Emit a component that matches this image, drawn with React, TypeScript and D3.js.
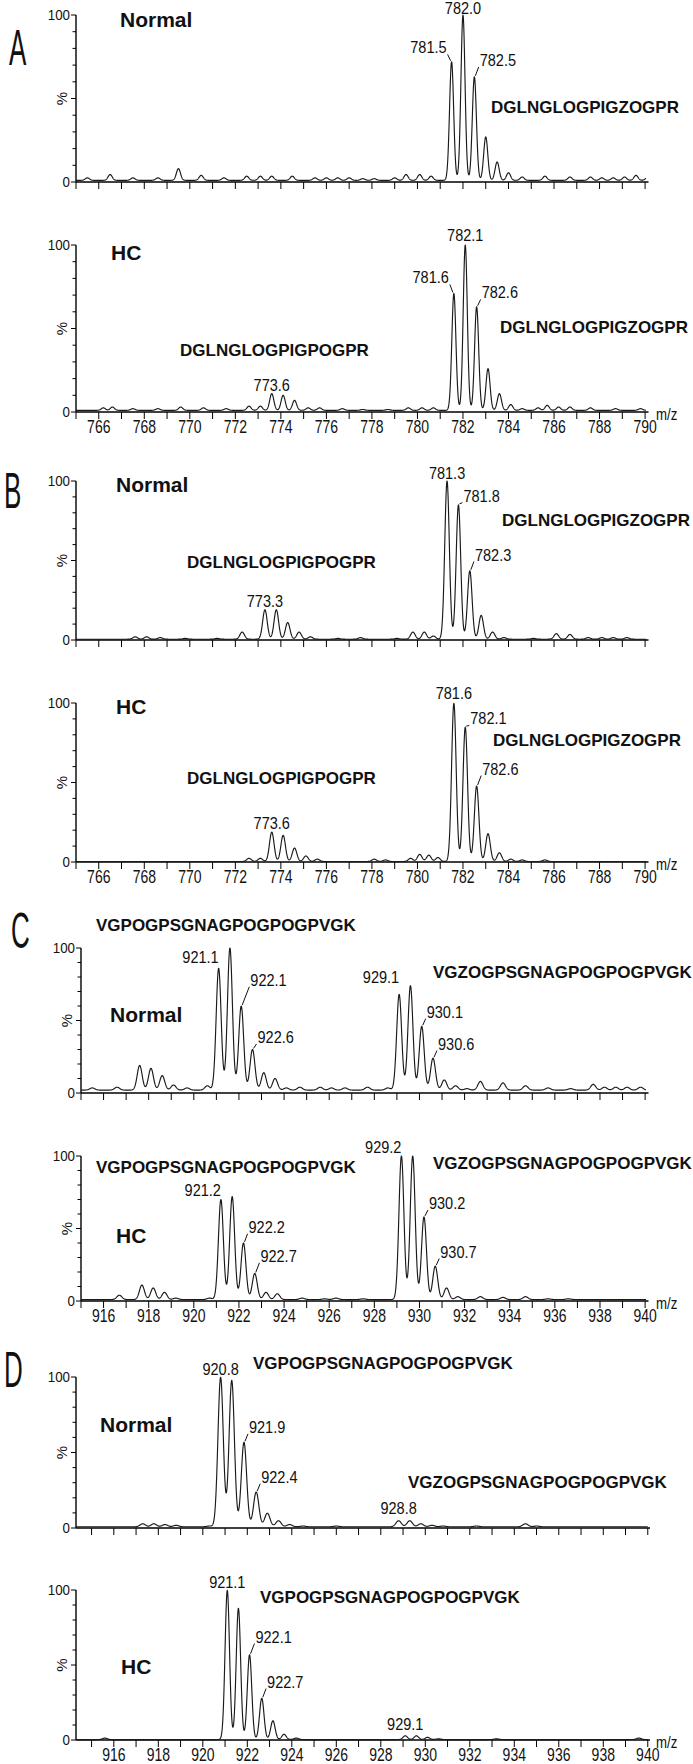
import React from 'react';
import * as d3 from 'd3';

// peptide sequences annotated on the spectra
const SEQ_POG = 'DGLNGLOGPIGPOGPR';
const SEQ_ZOG = 'DGLNGLOGPIGZOGPR';
const SEQ_VPOG = 'VGPOGPSGNAGPOGPOGPVGK';
const SEQ_VZOG = 'VGZOGPSGNAGPOGPOGPVGK';

// x tick labels
const lowMzLabels = [766, 768, 770, 772, 774, 776, 778, 780, 782, 784, 786, 788, 790];
const highMzLabels = [916, 918, 920, 922, 924, 926, 928, 930, 932, 934, 936, 938, 940];

// peaks: [m/z, % relative intensity]
const aNormalPeaks: [number, number][] = [
  [765.5, 1.5], [766.5, 3.5], [767.5, 1.5], [768.6, 1.5], [769.5, 7], [770.5, 3], [771.5, 1.5],
  [772.5, 2.5], [773.1, 2.5], [773.6, 2.5], [774.5, 2.5], [775.5, 1.5], [776, 1.5], [776.5, 1.5],
  [777, 1.5], [777.6, 1], [778.1, 1], [779, 1.5], [779.5, 3.5], [780.1, 3.5], [780.6, 2.5],
  [781.5, 71], [782, 99], [782.5, 62], [783, 26], [783.5, 11], [784, 4.5], [784.6, 2],
  [785.6, 2.5], [786.7, 2], [787.6, 2], [788.1, 1.5], [788.6, 1.5], [789.1, 2], [789.6, 3], [790.1, 1.5],
];
const aHcPeaks: [number, number][] = [
  [766.2, 1.5], [766.6, 2], [767.5, 1], [768.6, 1], [769.6, 2], [770.6, 1.5], [771.6, 1],
  [772.6, 2.5], [773.1, 2.5], [773.6, 10], [774.1, 9], [774.6, 6], [775.2, 1.5], [775.7, 1.5],
  [776.7, 1], [777.6, 0.5], [778.7, 0.5], [779.6, 1.5], [780.2, 1.5], [780.7, 1.5],
  [781.6, 70], [782.1, 99], [782.6, 62], [783.1, 25], [783.6, 10], [784.1, 3.5], [784.6, 1],
  [785.3, 1.5], [785.7, 3], [786.2, 2], [786.7, 2], [787.6, 1.5], [788.7, 1], [789.8, 1],
];
const bNormalPeaks: [number, number][] = [
  [767.6, 1.5], [768.1, 1.5], [768.7, 1], [769.8, 0.5], [771.2, 0.5], [772.3, 4.5], [773.3, 18.5],
  [773.8, 18.5], [774.3, 10.5], [774.8, 4.5], [775.3, 1.5], [776.5, 0.5], [777.5, 1], [779.1, 0.5],
  [779.8, 4.5], [780.3, 4.5], [780.7, 2], [781.3, 99.5], [781.8, 84.5], [782.3, 43], [782.8, 15],
  [783.3, 4.5], [783.8, 1], [785.1, 0.5], [786.1, 3.5], [786.7, 3], [787.5, 1], [788.1, 1],
  [788.6, 1], [789.2, 1],
];
const bHcPeaks: [number, number][] = [
  [772.6, 2], [773.1, 2], [773.6, 18.5], [774.1, 16.5], [774.6, 8.5], [775.1, 3.5], [775.6, 1.5],
  [778.1, 1.5], [778.6, 1], [779.7, 2], [780.1, 4.5], [780.5, 4], [780.9, 2.5], [781.6, 99.5],
  [782.1, 84.5], [782.6, 47.5], [783.1, 17.5], [783.6, 5.5], [784.1, 1.5], [784.6, 1], [785.6, 1],
];
const cNormalPeaks: [number, number][] = [
  [915.5, 1.5], [916.6, 2], [917.6, 17], [918.1, 15], [918.6, 10], [919.1, 3.5], [919.7, 1.5],
  [920.6, 3], [921.1, 84], [921.6, 98], [922.1, 58], [922.6, 28], [923.1, 12], [923.6, 8],
  [924.1, 1.5], [924.7, 2], [925.6, 2], [926.1, 1.5], [926.7, 1.5], [927.7, 2], [928.6, 1.5],
  [929.1, 66], [929.6, 72], [930.1, 44], [930.6, 22], [931.1, 7], [931.6, 3], [932.1, 1],
  [932.7, 6], [933.7, 5], [934.7, 3], [935.7, 1.5], [936.7, 1], [937.7, 4], [938.2, 2],
  [938.7, 2], [939.2, 2], [939.8, 2],
];
const cHcPeaks: [number, number][] = [
  [916.7, 3], [917.7, 10], [918.2, 8], [918.7, 5], [919.2, 1], [920.7, 1], [921.2, 69],
  [921.7, 71], [922.2, 39], [922.7, 18], [923.2, 5], [923.7, 4], [924.8, 1], [925.8, 0.5],
  [926.3, 1], [927.5, 0.5], [929.2, 99], [929.7, 99], [930.2, 57], [930.7, 23], [931.2, 8],
  [931.7, 2], [932.7, 2], [933.7, 1.5], [934.7, 2], [935.7, 0.5], [936.6, 0.5],
];
const dNormalPeaks: [number, number][] = [
  [917.3, 2], [917.8, 2], [918.3, 1.5], [918.8, 1], [920.3, 0.5], [920.8, 99], [921.3, 97],
  [921.85, 56], [922.4, 23], [922.9, 9], [923.4, 4], [923.9, 1.5], [924.5, 0.5], [926, 0.5],
  [928.8, 4], [929.3, 4], [929.8, 2], [930.3, 1], [930.8, 0.5], [932.3, 0.5], [934.5, 2], [935, 0.5],
];
const dHcPeaks: [number, number][] = [
  [915.6, 1], [921.1, 99.5], [921.6, 87.5], [922.1, 56.5], [922.65, 27.5], [923.15, 12.5],
  [923.65, 3.5], [924.2, 1], [929.1, 2.5], [929.6, 2.5], [930.1, 1.5], [930.6, 0.5],
  [933.2, 0.5], [939.6, 1],
];

// peak annotations: [text, placement, % level of the text baseline]
type Lbl = [string, 'top' | 'left' | 'leftLine' | 'right', number];
const aNormalLabels: Lbl[] = [['782.0', 'top', 100.6], ['781.5', 'leftLine', 77], ['782.5', 'right', 69.5]];
const aHcLabels: Lbl[] = [['782.1', 'top', 102.5], ['781.6', 'leftLine', 77], ['782.6', 'right', 68], ['773.6', 'top', 12.5]];
const bNormalLabels: Lbl[] = [['781.3', 'top', 101.5], ['781.8', 'right', 87], ['782.3', 'right', 50], ['773.3', 'top', 21]];
const bHcLabels: Lbl[] = [['781.6', 'top', 102.5], ['782.1', 'right', 86.5], ['782.6', 'right', 55], ['773.6', 'top', 21]];
const cNormalLabels: Lbl[] = [
  ['921.1', 'left', 90], ['922.1', 'right', 74], ['922.6', 'right', 34.5],
  ['929.1', 'left', 76], ['930.1', 'right', 52], ['930.6', 'right', 30],
];
const cHcLabels: Lbl[] = [
  ['921.2', 'left', 72.5], ['922.2', 'right', 47], ['922.7', 'right', 27],
  ['929.2', 'left', 102], ['930.2', 'right', 63.5], ['930.7', 'right', 30],
];
const dNormalLabels: Lbl[] = [['920.8', 'top', 101.3], ['921.9', 'right', 63], ['922.4', 'right', 30], ['928.8', 'top', 9]];
const dHcLabels: Lbl[] = [['921.1', 'top', 101.3], ['922.1', 'right', 65], ['922.7', 'right', 35], ['929.1', 'top', 7]];

const FONT = "'Liberation Sans', Arial, sans-serif";
const INK = '#111';

// page layout, one entry per trace
const panels = [
  { peaks: aNormalPeaks, labels: aNormalLabels, sigma: 0.09, floor: 1, dom: [765, 790.15], rng: [76, 648.5],
    top: 15, base: 182, ticks: null, letter: ['A', 9, 65], group: ['Normal', 120, 27], seqs: [[SEQ_ZOG, 491, 113]] },
  { peaks: aHcPeaks, labels: aHcLabels, sigma: 0.09, floor: 1, dom: [765, 790.15], rng: [76, 648.5],
    top: 245, base: 412, ticks: lowMzLabels, letter: null, group: ['HC', 111, 260], seqs: [[SEQ_POG, 180, 356], [SEQ_ZOG, 500, 333]] },
  { peaks: bNormalPeaks, labels: bNormalLabels, sigma: 0.1, floor: 0.5, dom: [765, 790.15], rng: [76, 648.5],
    top: 481, base: 640, ticks: null, letter: ['B', 4, 508], group: ['Normal', 116, 492], seqs: [[SEQ_ZOG, 502, 526], [SEQ_POG, 187, 568]] },
  { peaks: bHcPeaks, labels: bHcLabels, sigma: 0.1, floor: 0.3, dom: [765, 790.15], rng: [76, 648.5],
    top: 703, base: 862, ticks: lowMzLabels, letter: null, group: ['HC', 116, 714], seqs: [[SEQ_ZOG, 493, 746], [SEQ_POG, 187, 784]] },
  { peaks: cNormalPeaks, labels: cNormalLabels, sigma: 0.11, floor: 2, dom: [915, 940.15], rng: [81, 648.5],
    top: 948, base: 1093, ticks: null, letter: ['C', 11, 948], group: ['Normal', 110, 1022], seqs: [[SEQ_VPOG, 96, 931], [SEQ_VZOG, 433, 978]] },
  { peaks: cHcPeaks, labels: cHcLabels, sigma: 0.11, floor: 1, dom: [915, 940.15], rng: [81, 648.5],
    top: 1156, base: 1301, ticks: highMzLabels, letter: null, group: ['HC', 116, 1243], seqs: [[SEQ_VPOG, 96, 1173], [SEQ_VZOG, 433, 1169]] },
  { peaks: dNormalPeaks, labels: dNormalLabels, sigma: 0.12, floor: 0.8, dom: [914.3, 940.1], rng: [76, 650],
    top: 1377, base: 1528, ticks: null, letter: ['D', 4, 1387], group: ['Normal', 100, 1432], seqs: [[SEQ_VPOG, 253, 1369], [SEQ_VZOG, 408, 1488]] },
  { peaks: dHcPeaks, labels: dHcLabels, sigma: 0.1, floor: 0.3, dom: [914.3, 940.1], rng: [76, 650],
    top: 1590, base: 1740, ticks: highMzLabels, letter: null, group: ['HC', 121, 1674], seqs: [[SEQ_VPOG, 260, 1603]] },
];

// text drawn with a horizontal squeeze (the figure uses a narrow face)
const T = ({ x, y, sx = 1, size, anchor = 'start', weight = 'normal', children }: any) => (
  <text transform={`translate(${x},${y}) scale(${sx},1)`} textAnchor={anchor} fontSize={size}
    fontWeight={weight} fontFamily={FONT} fill={INK}>{children}</text>
);

const Spectrum = ({ p }: any) => {
  const x = d3.scaleLinear().domain(p.dom).range(p.rng);
  const y = d3.scaleLinear().domain([0, 100]).range([p.base, p.top]);
  const s2 = 2 * p.sigma * p.sigma;
  const level = (mz: number) =>
    p.floor + d3.sum(p.peaks, ([m, h]: [number, number]) => h * Math.exp(-((mz - m) ** 2) / s2));
  const pts = d3.range(p.dom[0], p.dom[1] - 0.1, 0.01).map((mz) => [mz, level(mz)]);
  const line = d3.line<number[]>().x((d) => x(d[0])).y((d) => y(d[1]));
  const minorTicks = d3.range(Math.ceil(p.dom[0]), Math.floor(p.dom[1]) + 1);
  const x0 = p.rng[0];

  return (
    <g>
      {/* y axis */}
      <line x1={x0} x2={x0} y1={p.base} y2={p.top} stroke="#000" strokeWidth={1.4} />
      {d3.range(0, 101, 10).map((v) => (
        <line key={v} x1={x0 - (v % 50 === 0 ? 5 : 3.5)} x2={x0} y1={y(v)} y2={y(v)} stroke="#000" strokeWidth={1} />
      ))}
      <T x={x0 - 6} y={y(100) + 5} size={14.5} sx={0.92} anchor="end">100</T>
      <T x={x0 - 6} y={y(0) + 5} size={14.5} sx={0.92} anchor="end">0</T>
      <text transform={`translate(${x0 - 9},${y(50)}) rotate(-90)`} textAnchor="middle" fontSize={15}
        fontFamily={FONT} fill={INK}>%</text>

      {/* x axis */}
      <line x1={x0} x2={p.rng[1]} y1={p.base} y2={p.base} stroke="#000" strokeWidth={1.6} />
      {minorTicks.map((t: number) => (
        <line key={t} x1={x(t)} x2={x(t)} y1={p.base} y2={p.base + 7} stroke="#000" strokeWidth={1} />
      ))}
      {p.ticks && p.ticks.map((t: number) => (
        <T key={t} x={x(t)} y={p.base + 21} size={17.5} sx={0.8} anchor="middle">{t}</T>
      ))}
      {p.ticks && <T x={656} y={p.base + 8} size={16.5} sx={0.8}>m/z</T>}

      {/* trace */}
      <path d={line(pts) || ''} fill="none" stroke="#1a1a1a" strokeWidth={1.15} strokeLinejoin="round" />

      {/* peak annotations */}
      {p.labels.map(([txt, side, at]: Lbl) => {
        const v = +txt;
        const pk = d3.least(p.peaks, (d: [number, number]) => Math.abs(d[0] - v)) as [number, number];
        const px = x(pk[0]);
        const py = y(level(pk[0]));
        const ly = y(at);
        if (side === 'top') return <T key={txt} x={px} y={ly} size={16.5} sx={0.88} anchor="middle">{txt}</T>;
        if (side === 'left') return <T key={txt} x={px} y={ly} size={16.5} sx={0.88} anchor="end">{txt}</T>;
        const dir = side === 'right' ? 1 : -1;
        const dx = Math.max(4, 0.4 * (py - ly));
        return (
          <g key={txt}>
            <line x1={px + dir} y1={py - 1} x2={px + dir * dx} y2={ly + 1} stroke={INK} strokeWidth={1} />
            <T x={px + dir * (dx + 1)} y={ly} size={16.5} sx={0.88} anchor={dir > 0 ? 'start' : 'end'}>{txt}</T>
          </g>
        );
      })}

      {/* panel text */}
      {p.letter && <T x={p.letter[1]} y={p.letter[2]} size={50} sx={0.52}>{p.letter[0]}</T>}
      <T x={p.group[1]} y={p.group[2]} size={21} weight="bold">{p.group[0]}</T>
      {p.seqs.map(([s, sx, sy]: [string, number, number]) => (
        <T key={s + sy} x={sx} y={sy} size={17} weight="bold">{s}</T>
      ))}
    </g>
  );
};

export default function App() {
  return (
    <svg width={693} height={1764} style={{ position: 'absolute', left: 0, top: 0, background: '#fff' }}>
      <rect width={693} height={1764} fill="#fff" />
      {panels.map((p, i) => <Spectrum key={i} p={p} />)}
    </svg>
  );
}
